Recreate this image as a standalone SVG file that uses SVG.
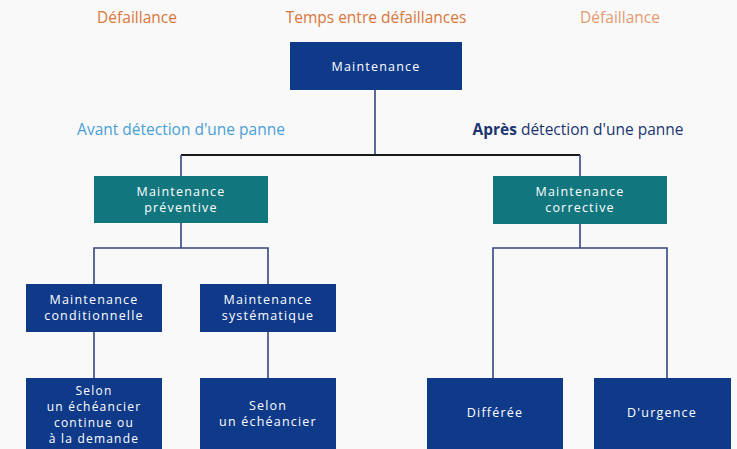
<svg xmlns="http://www.w3.org/2000/svg" width="737" height="449" viewBox="0 0 737 449">
<style>
.navy{fill:#0f3a8a}
.teal{fill:#12767e}
.bt{fill:#ffffff;font-family:"Open Sans","DejaVu Sans",sans-serif;font-size:12.5px;letter-spacing:1.2px;text-anchor:middle}
.sm{font-size:12px}
.lbl{font-family:"Open Sans","DejaVu Sans",sans-serif;font-size:15.5px;text-anchor:middle}
.ln{stroke:#33467f;stroke-width:1.6;fill:none}
</style>
<rect width="737" height="449" fill="#f9f9f9"/>
<g id="labels">
<text class="lbl" x="137" y="23" fill="#d9763a">Défaillance</text>
<text class="lbl" x="376" y="23" fill="#d9763a">Temps entre défaillances</text>
<text class="lbl" x="620" y="23" fill="#e49a70">Défaillance</text>
<text class="lbl" x="181" y="135" fill="#4a9fd6">Avant détection d'une panne</text>
<text class="lbl" x="578" y="135" fill="#1b3570"><tspan font-weight="bold">Après</tspan> détection d'une panne</text>
</g>
<g id="connectors">
<line class="ln" x1="375" y1="90" x2="375" y2="155" stroke="#5a6288"/>
<line x1="181" y1="155" x2="580" y2="155" stroke="#1a1a1a" stroke-width="2.2"/>
<polyline class="ln" points="181,155 181,176"/>
<polyline class="ln" points="580,155 580,176"/>
<polyline class="ln" points="181,223 181,248"/>
<polyline class="ln" points="94,284 94,248 268,248 268,284"/>
<polyline class="ln" points="580,224 580,248"/>
<polyline class="ln" points="493,378 493,248 667,248 667,378"/>
<polyline class="ln" points="94,332 94,378"/>
<polyline class="ln" points="268,332 268,378"/>
</g>
<g id="maintenance">
<rect class="navy" x="290" y="42" width="172" height="48"/>
<text class="bt" x="376" y="71">Maintenance</text>
</g>
<g id="preventive">
<rect class="teal" x="94" y="176" width="174" height="47"/>
<text class="bt" x="181" y="196">Maintenance</text>
<text class="bt" x="181" y="212">préventive</text>
</g>
<g id="corrective">
<rect class="teal" x="493" y="176" width="174" height="48"/>
<text class="bt" x="580" y="196">Maintenance</text>
<text class="bt" x="580" y="212">corrective</text>
</g>
<g id="conditionnelle">
<rect class="navy" x="26" y="284" width="136" height="48"/>
<text class="bt" x="94" y="304">Maintenance</text>
<text class="bt" x="94" y="320">conditionnelle</text>
</g>
<g id="systematique">
<rect class="navy" x="200" y="284" width="136" height="48"/>
<text class="bt" x="268" y="304">Maintenance</text>
<text class="bt" x="268" y="320">systématique</text>
</g>
<g id="selon-continue">
<rect class="navy" x="26" y="378" width="136" height="75"/>
<text class="bt sm" x="94" y="395">Selon</text>
<text class="bt sm" x="94" y="411">un échéancier</text>
<text class="bt sm" x="94" y="427">continue ou</text>
<text class="bt sm" x="94" y="443">à la demande</text>
</g>
<g id="selon-echeancier">
<rect class="navy" x="200" y="378" width="136" height="75"/>
<text class="bt" x="268" y="410">Selon</text>
<text class="bt" x="268" y="426">un échéancier</text>
</g>
<g id="differee">
<rect class="navy" x="427" y="378" width="136" height="75"/>
<text class="bt" x="495" y="417">Différée</text>
</g>
<g id="urgence">
<rect class="navy" x="594" y="378" width="137" height="75"/>
<text class="bt" x="662" y="417">D'urgence</text>
</g>
</svg>
